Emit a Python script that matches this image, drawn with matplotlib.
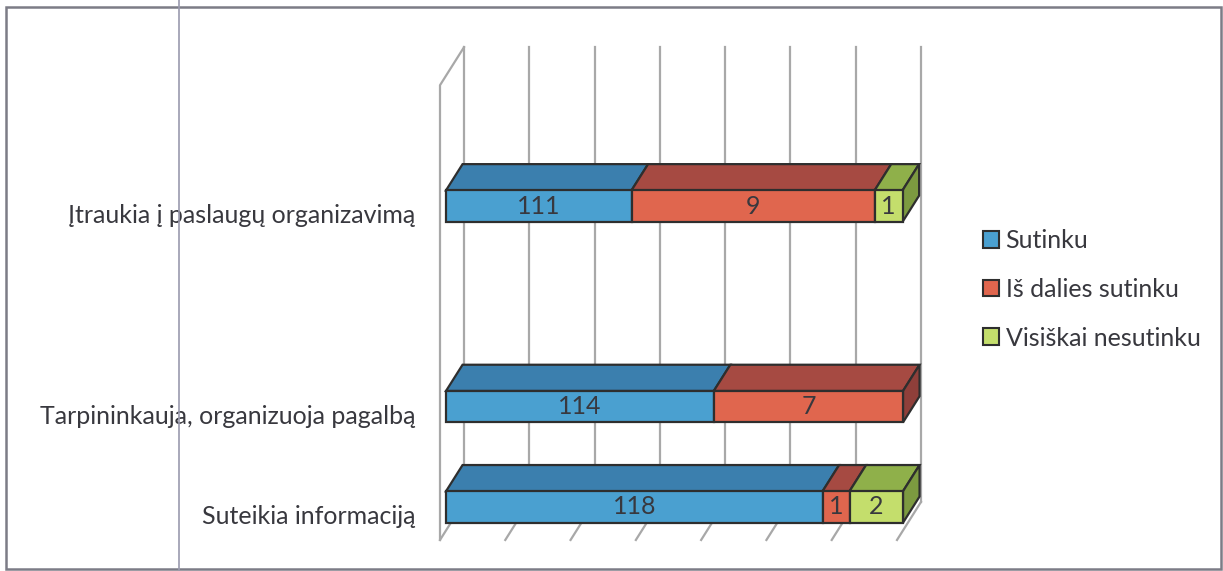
"""
plot.py
3D-look stacked bar chart (survey answers), drawn with flat matplotlib patches.
"""

import matplotlib
matplotlib.use("Agg")
import matplotlib.pyplot as plt
from matplotlib.patches import Polygon, Rectangle, Patch
from matplotlib.lines import Line2D

plt.rcParams["font.family"] = ["Lato", "DejaVu Sans"]

# data
CATEGORIES = ["Įtraukia į paslaugų organizavimą",
              "Tarpininkauja, organizuoja pagalbą",
              "Suteikia informaciją"]
SERIES = ["Sutinku", "Iš dalies sutinku", "Visiškai nesutinku"]
# printed counts on the bars
COUNT_SUTINKU = [111, 114, 118]
COUNT_DALIES = [9, 7, 1]
COUNT_NESUTINKU = [1, 0, 2]
# bar lengths as drawn (share of the full bar, %)
SHARE_SUTINKU = [40.6, 58.6, 82.4]
SHARE_DALIES = [53.2, 41.4, 5.9]
SHARE_NESUTINKU = [6.1, 0.0, 11.7]

# layout (category slots, top one is 3, an empty slot at 2)
CAT_Y = [3, 1, 0]
N_GRID = 7

# style
FRONT = ["#4aa0d0", "#e0664e", "#c4de6c"]
TOP = ["#3b7fae", "#a64a42", "#8fb04a"]
SIDE = ["#336f99", "#8f3f3a", "#7c9a40"]
EDGE = "#2e2e2e"
GRID = "#a8a8a8"
TEXT = "#38383e"
FS = 18

# pixel mapping of the plot (front wall plane)
W, H = 1223, 571
X0_PX, SX = 440, 4.57          # px of x=0, px per percent
Y0_PX, SY = 516.5, 100.3       # px of y=0 (from top), px per slot
DX, DY = 24 / SX, 38 / SY      # full depth offset in data units
Z0, Z1 = 0.25, 0.94            # bar depth range
HALF = 0.157                   # half bar height
FLOOR, TOPY = -0.234, 4.30


def proj(x, y, z):
    return x + z * DX, y + z * DY


fig = plt.figure(figsize=(W / 100, H / 100), dpi=100)
ax = fig.add_axes([0, 0, 1, 1])
ax.set_xlim(-X0_PX / SX, (W - X0_PX) / SX)
ax.set_ylim((Y0_PX - H) / SY, Y0_PX / SY)
ax.axis("off")

# walls and gridlines
for k in range(N_GRID + 1):
    x = 100 * k / N_GRID
    ax.plot(*zip(proj(x, FLOOR, 1), proj(x, TOPY, 1)), color=GRID, lw=1.6, zorder=1)
    ax.plot(*zip(proj(x, FLOOR, 0), proj(x, FLOOR, 1)), color=GRID, lw=1.6, zorder=1)
ax.plot(*zip(proj(0, FLOOR, 0), proj(0, TOPY, 0), proj(0, TOPY, 1)), color=GRID, lw=1.6, zorder=1)

# bars
shares = list(zip(SHARE_SUTINKU, SHARE_DALIES, SHARE_NESUTINKU))
counts = list(zip(COUNT_SUTINKU, COUNT_DALIES, COUNT_NESUTINKU))
for i, y in enumerate(CAT_Y):
    yb, yt = y - HALF, y + HALF
    segs = [(j, s) for j, s in enumerate(shares[i]) if s > 0]
    left = 0.0
    for n, (j, s) in enumerate(segs):
        right = left + s
        front = [proj(left, yb, Z0), proj(right, yb, Z0), proj(right, yt, Z0), proj(left, yt, Z0)]
        top = [proj(left, yt, Z0), proj(right, yt, Z0), proj(right, yt, Z1), proj(left, yt, Z1)]
        ax.add_patch(Polygon(top, closed=True, fc=TOP[j], ec=EDGE, lw=1.6, zorder=3))
        ax.add_patch(Polygon(front, closed=True, fc=FRONT[j], ec=EDGE, lw=1.6, zorder=4))
        if n == len(segs) - 1:
            side = [proj(right, yb, Z0), proj(right, yt, Z0), proj(right, yt, Z1), proj(right, yb, Z1)]
            ax.add_patch(Polygon(side, closed=True, fc=SIDE[j], ec=EDGE, lw=1.6, zorder=3))
        cx, cy = proj((left + right) / 2, y, Z0)
        ax.text(cx, cy, str(counts[i][j]), ha="center", va="center",
                fontsize=FS, color=TEXT, zorder=5)
        left = right

# category labels
for name, y in zip(CATEGORIES, CAT_Y):
    ax.text(-25 / SX, y, name, ha="right", va="center", fontsize=FS, color=TEXT)

# legend
handles = [Patch(fc=c, ec=EDGE, lw=1.5) for c in FRONT]
leg = ax.legend(handles, SERIES, loc="upper left", bbox_to_anchor=(983 / W, 1 - 229 / H),
                frameon=False, fontsize=FS, handlelength=0.65, handleheight=0.65,
                handletextpad=0.25, labelspacing=1.03, borderaxespad=0, borderpad=0)
for t in leg.get_texts():
    t.set_color(TEXT)

# outer frame and the scan fold line
fig.add_artist(Rectangle((6 / W, 1 - 569 / H), (1221 - 6) / W, (569 - 7) / H,
                         transform=fig.transFigure, fill=False, ec="#7c7c86", lw=1.8))
fig.add_artist(Line2D([179 / W, 179 / W], [0, 1], transform=fig.transFigure,
                      color="#9a9aae", lw=1.2))

fig.savefig("out.png", dpi=100)
